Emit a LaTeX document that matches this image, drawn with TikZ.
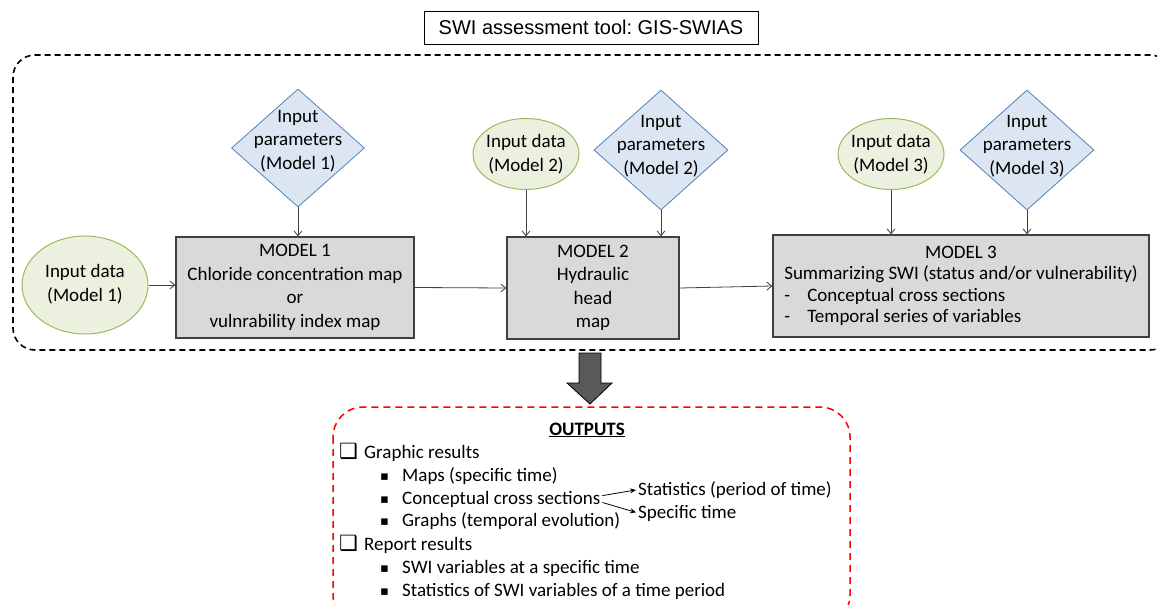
\documentclass[tikz,border=0pt]{standalone}
\usepackage{fontspec}
\setmainfont{Carlito}
\newfontfamily\symfont{DejaVu Sans}
\newfontfamily\titlefont{Liberation Sans}
\usetikzlibrary{shapes.geometric, arrows.meta, positioning, calc}
\definecolor{inputgreen}{RGB}{235, 241, 222}
\definecolor{inputgreenline}{RGB}{155, 187, 89}
\definecolor{parblue}{RGB}{220, 230, 242}
\definecolor{parblueline}{RGB}{79, 129, 189}
\definecolor{modelgray}{RGB}{217, 217, 217}
\definecolor{modelline}{RGB}{64, 64, 64}
\definecolor{outarrowgray}{RGB}{89, 89, 89}
\frenchspacing

\tikzset{
    inputdata/.style={ellipse, fill=inputgreen, draw=inputgreenline, line width=1pt, inner sep=0pt},
    inputpar/.style={diamond, fill=parblue, draw=parblueline, line width=0.8pt, inner sep=0pt},
    modelbox/.style={rectangle, fill=modelgray, draw=modelline, line width=1.2pt, inner sep=0pt, align=center},
    flowarrow/.style={draw=modelline, line width=0.8pt, -{Straight Barb[length=5pt,width=8pt]}},
    outtext/.style={anchor=base west, inner sep=0pt},
    outarrow/.style={line width=0.8pt, -{Stealth[length=6pt,width=5pt]}, shorten >=2pt, shorten <=2pt}
}
\newcommand{\bulletsq}{{\symfont\fontsize{13}{13}\selectfont ▪}}
\newcommand{\checksq}{{\symfont\fontsize{21}{21}\selectfont ❑}}

\begin{document}
\begin{tikzpicture}[x=1pt, y=-1pt, font=\fontsize{19}{23.5}\selectfont]
    \useasboundingbox (0,0) rectangle (1157,605);

    % title and tool frame
    \node[draw, line width=0.8pt, minimum width=334pt, minimum height=33pt, font=\titlefont\fontsize{20}{24}\selectfont]
        (title) at (591,27.5) {SWI assessment tool: GIS-SWIAS};
    \draw[line width=1.6pt, dash pattern=on 6pt off 4pt, rounded corners=22pt] (13,55) rectangle (1172,350);

    % model 1
    \node[inputdata, minimum width=126pt, minimum height=98pt,
          label={[align=center, yshift=1pt]center:{Input data\\(Model 1)}}] (in1) at (85,285) {};
    \node[inputpar, minimum width=133pt, minimum height=118pt,
          label={[align=center, yshift=7pt]center:{Input\\parameters\\(Model 1)}}] (par1) at (298,148) {};
    \node[modelbox, minimum width=238pt, minimum height=101pt] (m1) at (295,287.5)
        {MODEL 1\\Chloride concentration map\\or\\vulnrability index map};

    % model 2
    \node[inputdata, minimum width=106pt, minimum height=71pt,
          label={[align=center]center:{Input data\\(Model 2)}}] (in2) at (526,154) {};
    \node[inputpar, minimum width=134pt, minimum height=120pt,
          label={[align=center, yshift=4pt]center:{Input\\parameters\\(Model 2)}}] (par2) at (661,150) {};
    \node[modelbox, minimum width=172pt, minimum height=102pt] (m2) at (593,288)
        {MODEL 2\\Hydraulic\\head\\map};

    % model 3
    \node[inputdata, minimum width=106pt, minimum height=71pt,
          label={[align=center]center:{Input data\\(Model 3)}}] (in3) at (891,154) {};
    \node[inputpar, minimum width=134pt, minimum height=120pt,
          label={[align=center, yshift=4pt]center:{Input\\parameters\\(Model 3)}}] (par3) at (1027,150) {};
    \node[modelbox, minimum width=376pt, minimum height=102pt] (m3) at (961,286) {%
        \begin{tabular}{@{}l@{}}
            \multicolumn{1}{@{}c@{}}{MODEL 3}\\[-2pt]
            Summarizing SWI (status and/or vulnerability)\\[-2pt]
            \makebox[23pt][l]{-}Conceptual cross sections\\[-2pt]
            \makebox[23pt][l]{-}Temporal series of variables
        \end{tabular}};

    % connectors
    \draw[flowarrow] (in1.east) -- (m1.west |- in1.east);
    \draw[flowarrow] (m1.east) -- (m2.west);
    \draw[flowarrow] (m2.east) -- (m3.west);
    \draw[flowarrow] (par1.south) -- (par1.south |- m1.north);
    \draw[flowarrow] (in2.south) -- (in2.south |- m2.north);
    \draw[flowarrow] (par2.south) -- (par2.south |- m2.north);
    \draw[flowarrow] (in3.south) -- (in3.south |- m3.north);
    \draw[flowarrow] (par3.south) -- (par3.south |- m3.north);

    % block arrow down to outputs
    \draw[fill=outarrowgray, line width=0.8pt] (579,353) -- (601,353) -- (601,383) -- (612,383)
        -- (590,404) -- (567,383) -- (579,383) -- cycle;

    % outputs
    \draw[red, line width=1.5pt, dash pattern=on 7pt off 5pt, rounded corners=30pt] (333,407) rectangle (850,625);
    \node[anchor=base, inner sep=0pt] (outtitle) at (587,435) {\underline{\textbf{OUTPUTS}}};
    \node[outtext] at (339,458) {\checksq};
    \node[outtext] (graphic) at (364,458) {Graphic results};
    \node[outtext] at (339,550) {\checksq};
    \node[outtext] (report) at (364,550) {Report results};
    \foreach \nm/\yy/\txt in {maps/481/Maps (specific time), cross/504/Conceptual cross sections,
            graphs/526/Graphs (temporal evolution), swivar/573/SWI variables at a specific time,
            swistat/596/Statistics of SWI variables of a time period}{
        \node[outtext] at (380,\yy-1) {\bulletsq};
        \node[outtext] (\nm) at (402,\yy) {\txt};
    }
    \node[outtext] (stat) at (638,495) {Statistics (period of time)};
    \node[outtext] (spec) at (638,518) {Specific time};
    \draw[outarrow] ([yshift=3pt]cross.east) -- (stat.west);
    \draw[outarrow] ([yshift=-3pt]cross.east) -- (spec.west);
\end{tikzpicture}
\end{document}
